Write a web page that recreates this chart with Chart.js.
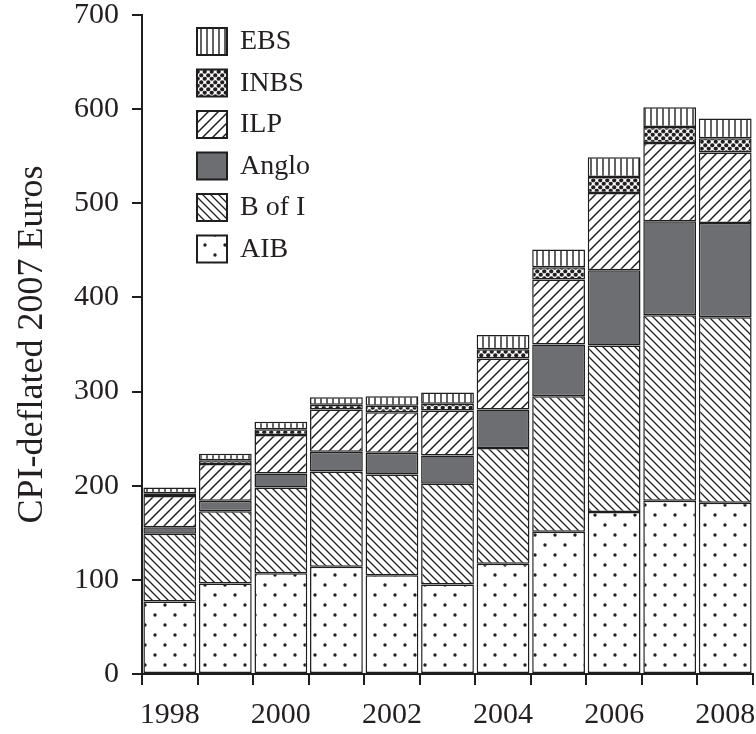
<!DOCTYPE html>
<html>
<head>
<meta charset="utf-8">
<script src="https://cdn.jsdelivr.net/npm/chart.js@4.4.1/dist/chart.umd.min.js"></script>
<style>
  html, body { margin: 0; padding: 0; background: #fff; }
</style>
</head>
<body>
<canvas id="myChart" width="756" height="734"></canvas>
<script>
const years = ['1998', '1999', '2000', '2001', '2002', '2003', '2004', '2005', '2006', '2007', '2008'];
const tickLabels = ['1998', '', '2000', '', '2002', '', '2004', '', '2006', '', '2008'];

const aib   = [77, 96, 107, 114, 105, 95, 117, 151, 172, 184, 182];
const bofi  = [72, 77, 91, 101, 107, 107, 123, 144, 177, 197, 197];
const anglo = [7, 11, 15, 21, 23, 30, 41, 55, 80, 100, 100];
const ilp   = [33, 39, 41, 45, 43, 48, 54, 69, 82, 83, 75];
const inbs  = [3, 4, 6, 5, 7, 7, 10, 13, 17, 17, 15];
const ebs   = [6, 7, 8, 8, 10, 12, 15, 19, 21, 21, 21];

const ink = '#231f20';
const serif = "'Liberation Serif', 'DejaVu Serif', serif";

// small tile patterns for the hatched fills
function pattern(w, h, draw) {
  const c = document.createElement('canvas');
  c.width = w; c.height = h;
  const g = c.getContext('2d');
  g.fillStyle = '#fff';
  g.fillRect(0, 0, w, h);
  g.strokeStyle = ink;
  g.fillStyle = ink;
  draw(g, w, h);
  return g.createPattern(c, 'repeat');
}

const dots = pattern(20, 20, function(g) {
  [[5, 5], [15, 15]].forEach(function(p) {
    g.beginPath(); g.arc(p[0], p[1], 1.7, 0, Math.PI * 2); g.fill();
  });
});
const backslash = pattern(8, 8, function(g, w, h) {
  g.lineWidth = 1.3;
  g.beginPath();
  g.moveTo(-1, -1); g.lineTo(w + 1, h + 1);
  g.moveTo(-1, h - 1); g.lineTo(1, h + 1);
  g.moveTo(w - 1, -1); g.lineTo(w + 1, 1);
  g.stroke();
});
const slash = pattern(10, 10, function(g, w, h) {
  g.lineWidth = 1.5;
  g.beginPath();
  g.moveTo(-1, h + 1); g.lineTo(w + 1, -1);
  g.moveTo(-1, 1); g.lineTo(1, -1);
  g.moveTo(w - 1, h + 1); g.lineTo(w + 1, h - 1);
  g.stroke();
});
const circles = pattern(7, 7, function(g) {
  [[1.75, 1.75], [5.25, 5.25], [-1.75, 5.25], [5.25, -1.75], [8.75, 1.75], [1.75, 8.75]].forEach(function(p) {
    g.beginPath(); g.arc(p[0], p[1], 2.1, 0, Math.PI * 2); g.fill();
  });
});
const vlines = pattern(6, 6, function(g) {
  g.lineWidth = 1.4;
  g.beginPath(); g.moveTo(3, 0); g.lineTo(3, 6); g.stroke();
});

function series(label, values, fill) {
  return {
    label: label,
    data: values,
    backgroundColor: fill,
    borderColor: '#1e1e1e',
    borderWidth: 1.5,
    borderSkipped: false,
    barPercentage: 0.95,
    categoryPercentage: 1.0
  };
}

const data = {
  labels: years,
  datasets: [
    series('AIB', aib, dots),
    series('B of I', bofi, backslash),
    series('Anglo', anglo, '#6d6e71'),
    series('ILP', ilp, slash),
    series('INBS', inbs, circles),
    series('EBS', ebs, vlines)
  ]
};

// legend drawn inside the plot, top-left, last series first
const insideLegend = {
  id: 'insideLegend',
  afterDraw: function(chart) {
    const ctx = chart.ctx;
    const x = chart.chartArea.left + 55;
    let y = 28;
    ctx.save();
    ctx.font = '28px ' + serif;
    ctx.textBaseline = 'middle';
    chart.data.datasets.slice().reverse().forEach(function(ds) {
      ctx.fillStyle = ds.backgroundColor;
      ctx.fillRect(x, y, 30, 27);
      ctx.lineWidth = 2;
      ctx.strokeStyle = '#1e1e1e';
      ctx.strokeRect(x, y, 30, 27);
      ctx.fillStyle = ink;
      ctx.fillText(ds.label, x + 43, y + 14);
      y += 41.5;
    });
    ctx.restore();
  }
};

const config = {
  type: 'bar',
  data: data,
  options: {
    responsive: false,
    animation: false,
    devicePixelRatio: 1,
    layout: {
      padding: { top: 15, right: 3, bottom: 0, left: 0 }
    },
    plugins: {
      legend: { display: false },
      tooltip: { enabled: false }
    },
    scales: {
      x: {
        stacked: true,
        offset: true,
        grid: {
          offset: true,
          drawOnChartArea: false,
          tickLength: 11,
          lineWidth: 2,
          color: '#1e1e1e'
        },
        border: { color: '#1e1e1e', width: 2 },
        ticks: {
          autoSkip: false,
          maxRotation: 0,
          padding: 12,
          color: ink,
          font: { family: serif, size: 30 },
          callback: function(v, i) { return tickLabels[i]; }
        },
        afterFit: function(scale) {
          scale.height = 60;
          scale.paddingLeft = 0;
          scale.paddingRight = 0;
        }
      },
      y: {
        stacked: true,
        min: 0,
        max: 700,
        grid: {
          drawOnChartArea: false,
          tickLength: 10,
          lineWidth: 2,
          color: '#1e1e1e'
        },
        border: { color: '#1e1e1e', width: 2 },
        ticks: {
          stepSize: 100,
          padding: 13,
          color: ink,
          font: { family: serif, size: 30 }
        },
        title: {
          display: true,
          text: 'CPI-deflated 2007 Euros',
          color: ink,
          font: { family: serif, size: 36 },
          padding: { top: 11, bottom: 0 }
        },
        afterFit: function(scale) {
          scale.width = 142;
          scale.paddingTop = 0;
          scale.paddingBottom = 0;
        }
      }
    }
  },
  plugins: [insideLegend]
};

const myChart = new Chart(document.getElementById('myChart'), config);
</script>
</body>
</html>
